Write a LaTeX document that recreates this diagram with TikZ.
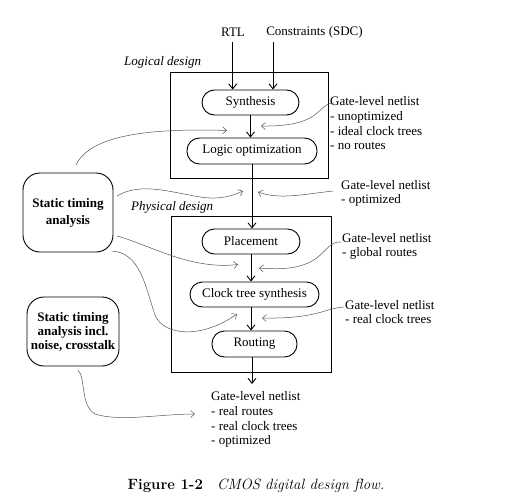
\documentclass[tikz,border=0pt]{standalone}
\usepackage{fontspec}
\newfontfamily\tnr{Liberation Serif}
\usetikzlibrary{arrows.meta}
\definecolor{curvegray}{RGB}{85,85,85}
\tikzset{
  every node/.style={font=\tnr\fontsize{13}{14.7}\selectfont, inner sep=0pt},
  pill/.style={draw, line width=0.9pt, rounded corners=12.5pt},
  stabox/.style={draw, line width=0.9pt, rounded corners=17pt, align=center,
    font=\tnr\bfseries\fontsize{13}{14}\selectfont},
  framebox/.style={draw, line width=0.9pt},
  flow/.style={line width=0.9pt, -{Straight Barb[length=5pt,width=8pt]}},
  note/.style={curvegray, line width=0.5pt, -{Straight Barb[length=4pt,width=7pt]}},
  lab/.style={align=left, anchor=north west},
}
\begin{document}
\begin{tikzpicture}[x=1pt,y=-1pt]
\useasboundingbox (0,0) rectangle (512,498);

% frames
\node[framebox, minimum width=158pt, minimum height=106pt] (logbox) at (249,125) {};
\node[framebox, minimum width=160pt, minimum height=156pt] (phybox) at (251,294) {};
\node[anchor=west, font=\tnr\itshape\fontsize{13}{14.7}\selectfont] (logtxt) at (124,62) {Logical design};
\node[anchor=west, font=\tnr\itshape\fontsize{13}{14.7}\selectfont] (phytxt) at (131,207) {Physical design};

% inputs
\node (rtl) at (233,32) {RTL};
\node (sdc) at (314.5,32) {Constraints (SDC)};

% flow steps
\node[pill, minimum width=97pt, minimum height=25pt] (syn) at (250.5,102.5) {Synthesis};
\node[pill, minimum width=130pt, minimum height=26pt] (lopt) at (252,151) {Logic optimization};
\node[pill, minimum width=98pt, minimum height=25pt] (place) at (251,241.5) {Placement};
\node[pill, minimum width=129pt, minimum height=25pt] (cts) at (254.5,294.5) {Clock tree synthesis};
\node[pill, minimum width=85pt, minimum height=26pt] (rout) at (254.5,344) {Routing};

\coordinate (rtlx) at (232.7,42);
\coordinate (sdcx) at (273,42);
\coordinate (outp) at (252,384);

\draw[flow] (rtlx) -- (rtlx |- syn.north);
\draw[flow] (sdcx) -- (sdcx |- syn.north);
\draw[flow] (syn.south) -- (syn.south |- lopt.north);
\draw[flow] (lopt.south) -- (lopt.south |- place.north);
\draw[flow] (place.south) -- (place.south |- cts.north);
\draw[flow] (place.south |- cts.south) -- (place.south |- rout.north);
\draw[flow] (rout.south -| outp) -- (outp);

% analysis boxes
\node[stabox, minimum width=90pt, minimum height=79pt, font=\tnr\bfseries\fontsize{13}{17}\selectfont] (sta) at (68,212.5) {Static timing\\analysis};
\node[stabox, minimum width=92pt, minimum height=69pt] (sta2) at (73,331.5) {Static timing\\analysis incl.\\noise, crosstalk};

% labels
\node[lab] (lab1) at (330,96.5) {Gate-level netlist\\- unoptimized\\- ideal clock trees\\- no routes};
\node[lab] (lab2) at (341,180) {Gate-level netlist\\- optimized};
\node[lab] (lab3) at (342,233) {Gate-level netlist\\- global routes};
\node[lab] (lab4) at (345,300) {Gate-level netlist\\- real clock trees};
\node[lab] (lab5) at (211,391.5) {Gate-level netlist\\- real routes\\- real clock trees\\- optimized};

% caption
\node[font=\fontsize{14.9}{16}\selectfont] (cap) at (256,486) {\textbf{Figure 1-2}\hspace{0.95em}\textit{CMOS digital design flow.}};

% annotation curves
\coordinate (a1s) at (334,103);  \coordinate (a1e) at (261,126);
\coordinate (a2s) at (76,165);   \coordinate (a2e) at (227,130.5);
\coordinate (a3s) at (333,191);  \coordinate (a3e) at (258,192);
\coordinate (a4s) at (117,196);  \coordinate (a4e) at (243,191);
\coordinate (a5s) at (117,236);  \coordinate (a5e) at (238,264.5);
\coordinate (a6s) at (341,242);  \coordinate (a6e) at (259,268);
\coordinate (a7s) at (112,251);  \coordinate (a7e) at (237,314);
\coordinate (a8s) at (344,307);  \coordinate (a8e) at (262,318);
\coordinate (a9s) at (78,370);   \coordinate (a9e) at (195,414);

\draw[note] (a1s) .. controls (316,103) and (325,127) .. (a1e);
\draw[note] (a2s) .. controls (90,135) and (150,128) .. (a2e);
\draw[note] (a3s) .. controls (305,194) and (280,200) .. (a3e);
\draw[note] (a4s) .. controls (140,182) and (170,192) .. (200,197) .. controls (220,200) and (232,196) .. (a4e);
\draw[note] (a5s) .. controls (150,245) and (190,270) .. (a5e);
\draw[note] (a6s) .. controls (320,241) and (328,274) .. (a6e);
\draw[note] (a7s) .. controls (140,253) and (145,285) .. (155,315) .. controls (163,335) and (200,340) .. (a7e);
\draw[note] (a8s) .. controls (325,308) and (318,319) .. (a8e);
\draw[note] (a9s) .. controls (86,378) and (80,405) .. (95,414) .. controls (120,422) and (160,414) .. (a9e);
\end{tikzpicture}
\end{document}
